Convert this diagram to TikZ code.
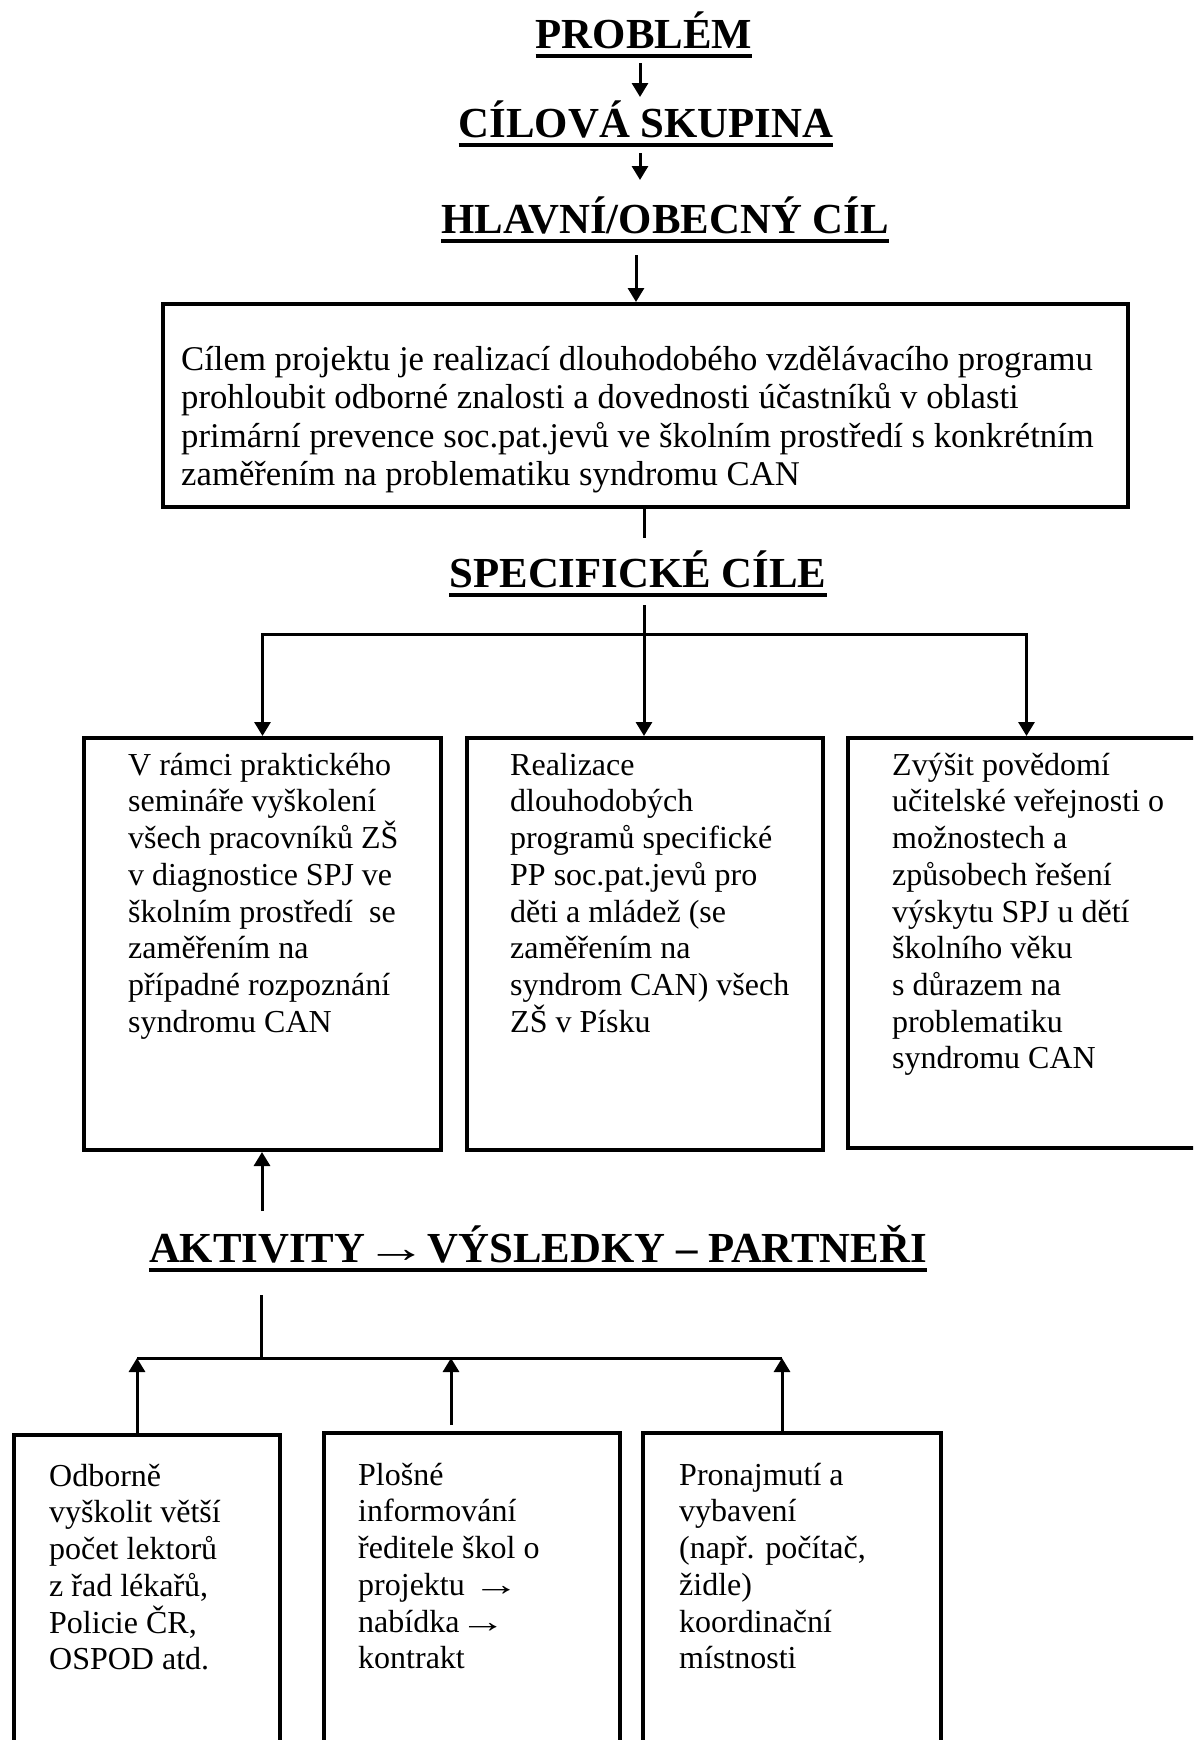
\documentclass[tikz,border=0pt]{standalone}
\usepackage{fontspec}
\usepackage{graphicx}
\setmainfont{Liberation Serif}
\usetikzlibrary{arrows.meta,calc}
\newcommand{\longarr}{\scalebox{1.45}[1]{→}}
\begin{document}
\begin{tikzpicture}[x=1bp,y=-1bp,
  head/.style={font=\fontsize{42.8bp}{48bp}\selectfont\bfseries, inner sep=0pt, anchor=base},
  uline/.style={line width=4bp},
  frame/.style={draw, line width=4bp, inner sep=0pt, anchor=north west},
  conn/.style={line width=3bp},
  tip/.tip={Triangle[width=16bp,length=14bp]},
  arr/.style={line width=3bp, -tip},
  body/.style={font=\fontsize{32bp}{36.7bp}\selectfont, inner sep=0pt, anchor=north west, align=left},
  mainbody/.style={font=\fontsize{34.7bp}{38.5bp}\selectfont, inner sep=0pt, anchor=north west, align=left},
]
\useasboundingbox (0,0) rectangle (1193,1740);
\fill[white] (0,0) rectangle (1193,1740);
\clip (0,0) rectangle (1193,1740);

% headings
\node[head] (h1) at (644,48) {PROBLÉM};
\node[head] (h2) at (646,137) {CÍLOVÁ SKUPINA};
\node[head] (h3) at (665,233) {HLAVNÍ/OBECNÝ CÍL};
\node[head] (h4) at (638,587) {SPECIFICKÉ CÍLE};
\node[head] (h5) at (538,1262) {AKTIVITY{\mdseries\longarr}VÝSLEDKY – PARTNEŘI};
\foreach \h in {h1,h2,h3,h4,h5}{
  \draw[uline] ([yshift=-8bp]\h.base west) -- ([yshift=-8bp]\h.base east);
}

% main box
\node[frame, minimum width=965bp, minimum height=203bp] (mb) at (161,302) {};
\node[mainbody] (mt) at (181,335) {\rule{0pt}{35bp}Cílem projektu je realizací dlouhodobého vzdělávacího programu\\
prohloubit odborné znalosti a dovednosti účastníků v oblasti\\
primární prevence soc.pat.jevů ve školním prostředí s konkrétním\\
zaměřením na problematiku syndromu CAN};

% top chain arrows
\coordinate (a1) at ($(h1.base)+(-4,15)$);
\coordinate (a1e) at ($(h2.base)+(-6,-40)$);
\draw[arr] (a1) -- (a1e);
\coordinate (a2) at ($(h2.base)+(-6,16)$);
\coordinate (a2e) at ($(h3.base)+(-25,-53)$);
\draw[arr] (a2) -- (a2e);
\coordinate (a3) at ($(h3.base)+(-29,22)$);
\draw[arr] (a3) -- (a3 |- mb.north);

% specific goals boxes
\node[frame, minimum width=357bp, minimum height=412bp] (b1) at (82,736) {};
\node[frame, minimum width=356bp, minimum height=412bp] (b2) at (465,736) {};
\node[frame, minimum width=357bp, minimum height=410bp] (b3) at (846,736) {};

\node[body] (t1) at (128,743) {\rule{0pt}{32bp}V rámci praktického\\ semináře vyškolení\\ všech pracovníků ZŠ\\ v diagnostice SPJ ve\\ školním prostředí\ \ se\\ zaměřením na\\ případné rozpoznání\\ syndromu CAN};
\node[body] (t2) at (510,743) {\rule{0pt}{32bp}Realizace\\ dlouhodobých\\ programů specifické\\ PP soc.pat.jevů pro\\ děti a mládež (se\\ zaměřením na\\ syndrom CAN) všech\\ ZŠ v Písku};
\node[body] (t3) at (892,743) {\rule{0pt}{32bp}Zvýšit povědomí\\ učitelské veřejnosti o\\ možnostech a\\ způsobech řešení\\ výskytu SPJ u dětí\\ školního věku\\ s důrazem na\\ problematiku\\ syndromu CAN};

% connectors main box -> specific goals
\coordinate (k1) at ($(h4.base)+(6,-49)$);
\coordinate (k2) at ($(h4.base)+(6,18)$);
\coordinate (j) at ($(h4.base)+(6,47)$);
\draw[conn] (k1 |- mb.south) -- (k1);
\draw[arr] (k2) -- (k2 |- b2.north);
\draw[line width=3bp, tip-tip] (b1.north) -- (b1.north |- j) -- (b3.north |- j) -- (b3.north);

% activities
\coordinate (u1) at ($(h5.base)+(-276,-51)$);
\draw[arr] (u1) -- (u1 |- b1.south);
\coordinate (d1) at ($(h5.base)+(-277,33)$);
\coordinate (bj) at ($(h5.base)+(-277,96)$);
\draw[conn] (d1) -- (bj);
\coordinate (bl) at (137,1358);
\coordinate (bm) at (451,1358);
\coordinate (br) at (782,1358);
\draw[conn] (bl) -- (br);

\node[frame, minimum width=266bp, minimum height=340bp] (c1) at (12,1433) {};
\node[frame, minimum width=296bp, minimum height=340bp] (c2) at (322,1431) {};
\node[frame, minimum width=298bp, minimum height=340bp] (c3) at (641,1431) {};

\draw[arr] (bl |- c1.north) -- (bl);
\draw[arr] ($(bm |- c2.north)+(0,-6)$) -- (bm);
\draw[arr] (br |- c3.north) -- (br);

\node[body] (t4) at (49,1454) {\rule{0pt}{32bp}Odborně\\ vyškolit větší\\ počet lektorů\\ z řad lékařů,\\ Policie ČR,\\ OSPOD atd.};
\node[body] (t5) at (358,1453) {\rule{0pt}{32bp}Plošné\\ informování\\ ředitele škol o\\ projektu \longarr\\ nabídka\longarr\\ kontrakt};
\node[body] (t6) at (679,1453) {\rule{0pt}{32bp}Pronajmutí a\\ vybavení\\ (např. počítač,\\ židle)\\ koordinační\\ místnosti};
\end{tikzpicture}
\end{document}
